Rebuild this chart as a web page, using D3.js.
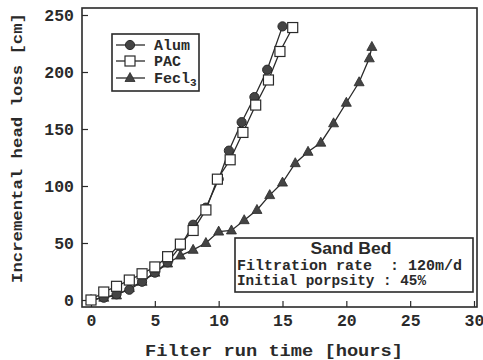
<!DOCTYPE html>
<html><head><meta charset="utf-8">
<script src="https://cdn.jsdelivr.net/npm/d3@7"></script>
<style>
body{margin:0;background:#fff;}
svg{display:block;}
</style></head>
<body><svg id="c" width="483" height="360"></svg>
<script>
const xTicks = [0,5,10,15,20,25,30];
const yTicks = [0,50,100,150,200,250];
const alumT = [0,1,2,3,4,5,6,7,8,9,10,10.8,11.8,12.8,13.8,15];
const alumV = [0,2,5,9,16,24,33,47,66,81,106,131,156,178,202,240];
const pacT = [0,1,2,3,4,5,6,7,8,9,9.9,10.9,11.9,12.9,13.9,14.8,15.8];
const pacV = [0,7,12,17.5,23,29,38,49,61,79,106,123,147,171,193,218,239];
const fecT = [0,1,2,3,4,5,6,7,8,9,10,11,12,13,14,15,16,17,18,19,20,21,21.8,22];
const fecV = [0,2,4,10.5,16,24,32,39,44,50,60,61,70,79,92,103,120,130,138,155,173,191,212,222];
const legendNames = ["Alum","PAC","Fecl"];

const svg = d3.select("#c");
const frame = {l:82, t:8, r:477, b:307};
const x = d3.scaleLinear().domain([0,30]).range([91,474]);
const y = d3.scaleLinear().domain([0,250]).range([300,15]);
const ink = "#2a2a2a";
const mono = "'Liberation Mono','Courier New',monospace";

svg.append("rect").attr("x",frame.l).attr("y",frame.t)
  .attr("width",frame.r-frame.l).attr("height",frame.b-frame.t)
  .attr("fill","none").attr("stroke",ink).attr("stroke-width",1.6);

const ya = svg.append("g").attr("transform",`translate(${frame.l},0)`)
  .call(d3.axisLeft(y).tickValues(yTicks).tickSize(-6).tickPadding(8));
const xa = svg.append("g").attr("transform",`translate(0,${frame.b})`)
  .call(d3.axisBottom(x).tickValues(xTicks).tickSize(-6).tickPadding(7));
[ya,xa].forEach(g=>{
  g.select(".domain").remove();
  g.selectAll("line").attr("stroke",ink).attr("stroke-width",1.2);
  g.selectAll("text").attr("font-family",mono).attr("font-weight","bold")
    .attr("font-size",16.5).attr("fill",ink);
});

svg.append("text").attr("x",274).attr("y",356).attr("text-anchor","middle")
  .attr("font-family",mono).attr("font-weight","bold").attr("font-size",16)
  .attr("textLength",258).attr("lengthAdjust","spacingAndGlyphs")
  .attr("fill",ink).text("Filter run time [hours]");
svg.append("text").attr("transform","translate(22,148) rotate(-90)")
  .attr("text-anchor","middle").attr("font-family",mono).attr("font-weight","bold")
  .attr("font-size",15).attr("textLength",270).attr("lengthAdjust","spacingAndGlyphs")
  .attr("fill",ink).text("Incremental head loss [cm]");

const line = d3.line().x(d=>x(d[0])).y(d=>y(d[1]));
const series = [
  {t:fecT, v:fecV, m:"tri"},
  {t:alumT, v:alumV, m:"circ"},
  {t:pacT, v:pacV, m:"sq"}
];
function marker(g, type, cx, cy){
  if(type==="circ") g.append("circle").attr("cx",cx).attr("cy",cy).attr("r",4.6)
    .attr("fill","#444").attr("stroke",ink).attr("stroke-width",1);
  else if(type==="sq") g.append("rect").attr("x",cx-5).attr("y",cy-5).attr("width",10).attr("height",10)
    .attr("fill","#fff").attr("stroke",ink).attr("stroke-width",1.2);
  else g.append("path").attr("d",`M${cx},${cy-5.5}L${cx+5},${cy+3.5}L${cx-5},${cy+3.5}Z`)
    .attr("fill","#444").attr("stroke",ink).attr("stroke-width",0.8);
}
series.forEach(s=>{
  const pts = s.t.map((t,i)=>[t,s.v[i]]);
  svg.append("path").datum(pts).attr("d",line).attr("fill","none")
    .attr("stroke",ink).attr("stroke-width",1.3);
  const g = svg.append("g");
  pts.forEach(p=>marker(g,s.m,x(p[0]),y(p[1])));
});

const lg = svg.append("g");
lg.append("rect").attr("x",112).attr("y",34).attr("width",87).attr("height",57)
  .attr("fill","#fff").attr("stroke",ink).attr("stroke-width",1.6);
const lm = ["circ","sq","tri"];
[45,61,78].forEach((yy,i)=>{
  lg.append("line").attr("x1",116).attr("x2",145).attr("y1",yy).attr("y2",yy)
    .attr("stroke",ink).attr("stroke-width",1.3);
  marker(lg,lm[i],130,yy);
  const t = lg.append("text").attr("x",154).attr("y",yy+5)
    .attr("font-family",mono).attr("font-weight","bold").attr("font-size",15)
    .attr("fill",ink).text(legendNames[i]);
  if(i===2) t.append("tspan").attr("font-size",11).attr("dy",3).text("3");
});

const ib = svg.append("g");
ib.append("rect").attr("x",235).attr("y",238).attr("width",238).attr("height",54)
  .attr("fill","#fff").attr("stroke",ink).attr("stroke-width",1.6);
ib.append("text").attr("x",351).attr("y",254).attr("text-anchor","middle")
  .attr("font-family","'Liberation Sans',Arial,sans-serif").attr("font-weight","bold")
  .attr("font-size",16).attr("textLength",81).attr("lengthAdjust","spacingAndGlyphs")
  .attr("fill",ink).text("Sand Bed");
ib.append("text").attr("x",237).attr("y",270).attr("xml:space","preserve")
  .attr("font-family",mono).attr("font-weight","bold").attr("font-size",14.5)
  .attr("textLength",225).attr("lengthAdjust","spacingAndGlyphs")
  .attr("fill",ink).text("Filtration rate  : 120m/d");
ib.append("text").attr("x",237).attr("y",285).attr("xml:space","preserve")
  .attr("font-family",mono).attr("font-weight","bold").attr("font-size",14.5)
  .attr("textLength",189).attr("lengthAdjust","spacingAndGlyphs")
  .attr("fill",ink).text("Initial porpsity : 45%");
</script>
</body></html>
